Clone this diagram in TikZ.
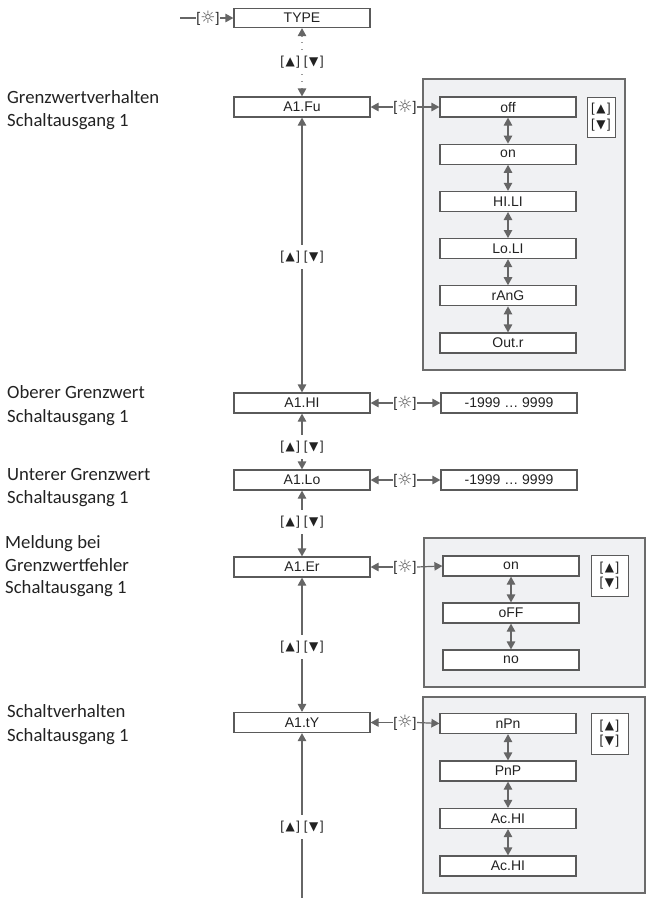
\documentclass[tikz,border=0pt]{standalone}
\usepackage{fontspec}
\setmainfont{Liberation Sans}
\newfontfamily\lblfont{Carlito}
\newfontfamily\symfont{DejaVu Sans}
\usetikzlibrary{arrows.meta}
\definecolor{boxc}{HTML}{5A5A5A}
\definecolor{arrc}{HTML}{666666}
\definecolor{dotc}{HTML}{9A9A9A}
\definecolor{panf}{HTML}{F0F1F3}
\definecolor{panc}{HTML}{6B6B6B}
\definecolor{txtc}{HTML}{222222}
\definecolor{sunc}{HTML}{555555}
\tikzset{
  menubox/.style={draw=boxc, fill=white, line width=1.2pt, minimum width=136pt,
    minimum height=20pt, inner sep=0pt, text=txtc, font=\fontsize{14}{15}\selectfont},
  panel/.style={draw=panc, fill=panf, line width=1.2pt},
  tipA/.tip={Triangle[length=8pt,width=8.5pt]},
  arr/.style={draw=arrc, line width=1.2pt, -tipA},
  dbl/.style={draw=arrc, line width=1.2pt, tipA-tipA},
  plain/.style={draw=arrc, line width=1.2pt},
  keys/.style={inner xsep=1pt, inner ysep=0pt, minimum height=24pt, text=txtc,
    font=\fontsize{13}{14}\selectfont},
  sunlbl/.style={inner xsep=0.5pt, inner ysep=0pt, minimum height=16pt, text=txtc,
    font=\fontsize{14}{15}\selectfont},
  legend/.style={draw=boxc, fill=white, line width=1pt, inner sep=0pt, align=center,
    text=txtc, font=\fontsize{13}{15.5}\selectfont},
  side/.style={anchor=base west, inner sep=0pt, text=txtc, font=\lblfont\fontsize{18.7}{22}\selectfont}
}
\newcommand{\up}{{\symfont\fontsize{12}{10}\selectfont ▲}}
\newcommand{\dn}{{\symfont\fontsize{12}{10}\selectfont ▼}}
\newcommand{\upb}{[\kern1.6pt\up\kern1.6pt]}
\newcommand{\dnb}{[\kern1.6pt\dn\kern1.6pt]}
\newcommand{\keyt}{\upb\kern4pt\dnb}
\newcommand{\legt}{{\upb}\\{}{\dnb}}
\newcommand{\suntxt}{[{\color{sunc}\symfont\fontsize{17}{16}\selectfont\raisebox{-0.5pt}{☼}}]}
\begin{document}
\begin{tikzpicture}[x=1pt,y=-1pt]
\useasboundingbox (0,0) rectangle (655,898);

% panels
\draw[panel] (423,79) rectangle (625,370);
\draw[panel] (424,538) rectangle (645,687);
\draw[panel] (423,697) rectangle (645,893);

% side labels
\node[side] (l1a) at (7,103) {Grenzwertverhalten};
\node[side] (l1b) at (7,126) {Schaltausgang 1};
\node[side] (l2a) at (7,398) {Oberer Grenzwert};
\node[side] (l2b) at (7,422) {Schaltausgang 1};
\node[side] (l3a) at (7,480) {Unterer Grenzwert};
\node[side] (l3b) at (7,503) {Schaltausgang 1};
\node[side] (l4a) at (5,548) {Meldung bei};
\node[side] (l4b) at (5,571) {Grenzwertfehler};
\node[side] (l4c) at (5,593) {Schaltausgang 1};
\node[side] (l5a) at (7,717) {Schaltverhalten};
\node[side] (l5b) at (7,741) {Schaltausgang 1};

% main column
\node[menubox, minimum height=19pt] (type) at (302,18) {TYPE};
\node[menubox] (fu) at (302,107) {A1.Fu};
\node[menubox] (hi) at (302,403) {A1.HI};
\node[menubox] (lo) at (302,480) {A1.Lo};
\node[menubox] (er) at (302,567) {A1.Er};
\node[menubox] (ty) at (302,722.5) {A1.tY};

\coordinate (start) at (180,18);
\node[sunlbl] (sunT) at (208,18) {\suntxt};
\draw[plain] (start) -- (sunT.west);
\draw[arr] (sunT.east) -- (type.west);

% key labels on main column
\node[keys] (k0) at (302,62) {\keyt};
\node[keys] (k1) at (302,257) {\keyt};
\node[keys] (k2) at (302,447) {\keyt};
\node[keys] (k3) at (302,522) {\keyt};
\node[keys] (k4) at (302,647) {\keyt};
\node[keys] (k5) at (302,827) {\keyt};
\coordinate (bottom) at (302,898);

\draw[dotc, line width=1.2pt, dash pattern=on 0.9pt off 6pt, -{Triangle[length=8pt,width=8.5pt,color=arrc]}] (k0.north) -- (type.south);
\draw[dotc, line width=1.2pt, dash pattern=on 0.9pt off 6pt, -{Triangle[length=8pt,width=8.5pt,color=arrc]}] (k0.south) -- (fu.north);
\draw[arr] (k1.north) -- (fu.south);
\draw[arr] (k1.south) -- (hi.north);
\draw[arr] (k2.north) -- (hi.south);
\draw[arr] (k2.south) -- (lo.north);
\draw[arr] (k3.north) -- (lo.south);
\draw[arr] (k3.south) -- (er.north);
\draw[arr] (k4.north) -- (er.south);
\draw[arr] (k4.south) -- (ty.north);
\draw[arr] (k5.north) -- (ty.south);
\draw[plain] (k5.south) -- (bottom);

% row A1.Fu
\node[sunlbl] (sFu) at (405,107) {\suntxt};
\node[menubox] (off) at (508,107) {off};
\node[menubox] (on1) at (508,154.2) {on};
\node[menubox] (hili) at (508,201.4) {HI.LI};
\node[menubox] (loli) at (508,248.6) {Lo.LI};
\node[menubox] (rang) at (508,295.8) {rAnG};
\node[menubox] (outr) at (508,343) {Out.r};
\node[legend, minimum width=28pt, minimum height=40pt] (lg1) at (601,117) {\legt};
\draw[arr] (sFu.west) -- (fu.east);
\draw[arr] (sFu.east) -- (off.west);
\draw[dbl] (off.south) -- (on1.north);
\draw[dbl] (on1.south) -- (hili.north);
\draw[dbl] (hili.south) -- (loli.north);
\draw[dbl] (loli.south) -- (rang.north);
\draw[dbl] (rang.south) -- (outr.north);

% row A1.HI
\node[sunlbl] (sHi) at (405,403) {\suntxt};
\node[menubox] (vhi) at (509,403) {-1999 … 9999};
\draw[arr] (sHi.west) -- (hi.east);
\draw[arr] (sHi.east) -- (vhi.west);

% row A1.Lo
\node[sunlbl] (sLo) at (405,480) {\suntxt};
\node[menubox] (vlo) at (509,480) {-1999 … 9999};
\draw[arr] (sLo.west) -- (lo.east);
\draw[arr] (sLo.east) -- (vlo.west);

% row A1.Er
\node[sunlbl] (sEr) at (405,567) {\suntxt};
\node[menubox] (on2) at (511,566) {on};
\node[menubox] (offb) at (511,613) {oFF};
\node[menubox] (no) at (511,660) {no};
\node[legend, minimum width=37pt, minimum height=41pt] (lg2) at (609.5,575.5) {\legt};
\draw[arr] (sEr.west) -- (er.east);
\draw[arr] (sEr.east) -- (on2.west);
\draw[dbl] (on2.south) -- (offb.north);
\draw[dbl] (offb.south) -- (no.north);

% row A1.tY
\node[sunlbl] (sTy) at (405,722.5) {\suntxt};
\node[menubox] (npn) at (508,723.5) {nPn};
\node[menubox] (pnp) at (508,771) {PnP};
\node[menubox] (achi1) at (508,818.5) {Ac.HI};
\node[menubox] (achi2) at (508,866) {Ac.HI};
\node[legend, minimum width=37pt, minimum height=41pt] (lg3) at (609.5,733.5) {\legt};
\draw[arr] (sTy.west) -- (ty.east);
\draw[arr] (sTy.east) -- (npn.west);
\draw[dbl] (npn.south) -- (pnp.north);
\draw[dbl] (pnp.south) -- (achi1.north);
\draw[dbl] (achi1.south) -- (achi2.north);
\end{tikzpicture}
\end{document}
